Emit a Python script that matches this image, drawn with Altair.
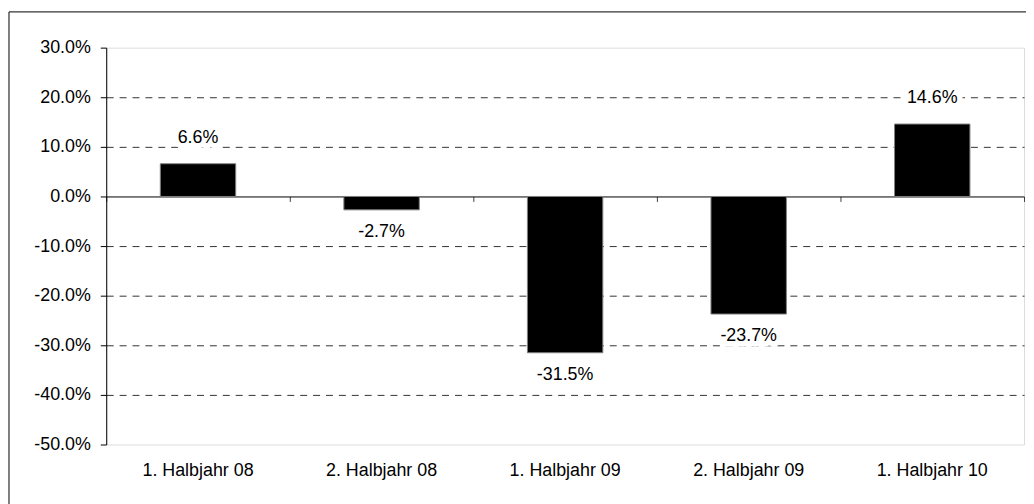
import altair as alt
import pandas as pd

categories = ["1. Halbjahr 08", "2. Halbjahr 08", "1. Halbjahr 09", "2. Halbjahr 09", "1. Halbjahr 10"]
values = [6.6, -2.7, -31.5, -23.7, 14.6]
y_ticks = [-50, -40, -30, -20, -10, 0, 10, 20, 30]

df = pd.DataFrame({"cat": categories, "val": values})
df["lbl"] = [f"{v:.1f}%" for v in values]

FONT = "Liberation Sans"
FS = 18

xscale = alt.Scale(paddingInner=0, paddingOuter=0)

x_main = alt.X("cat:N", sort=categories, scale=xscale,
               axis=alt.Axis(title=None, labelAngle=0, ticks=False, tickSize=0, domain=False,
                             labelPadding=17, labelFont=FONT, labelFontSize=FS, labelColor="black"))
x_none = alt.X("cat:N", sort=categories, scale=xscale, axis=None)

y_axis = alt.Axis(title=None, values=y_ticks,
                  labelExpr="(datum.value < 0 ? '-' : '') + format(abs(datum.value), '.1f') + '%'",
                  labelFont=FONT, labelFontSize=FS, labelColor="black",
                  labelPadding=10, tickSize=6, tickColor="black",
                  domainColor="black", grid=True, gridColor="#333333",
                  gridDash=[7, 6],
                  gridOpacity={"condition": {"test": "datum.value == 30 || datum.value == -50 || datum.value == 0", "value": 0}, "value": 1})
y_main = alt.Y("val:Q", scale=alt.Scale(domain=[-50, 30], nice=False), axis=y_axis)

base = alt.Chart(df)

bars = base.mark_bar(color="black", stroke="#808080", strokeWidth=1, width=76).encode(x=x_main, y=y_main)

zero_axis = base.mark_bar(opacity=0, width=1).encode(
    x=alt.X("cat:N", sort=categories, scale=xscale,
            axis=alt.Axis(title=None, labels=False, domain=True, domainColor="black", domainWidth=1,
                          ticks=True, tickColor="#404040", tickSize=5, tickBand="extent",
                          orient="bottom", offset=-250)),
    y=y_main,
)

def labels(filter_expr, dy):
    sub = base.transform_filter(filter_expr)
    halo = sub.mark_text(font=FONT, fontSize=FS, dy=dy, baseline="middle", align="center",
                         stroke="white", strokeWidth=11, strokeJoin="round", fill="white").encode(
        x=x_none, y=y_main, text="lbl:N")
    txt = sub.mark_text(font=FONT, fontSize=FS, dy=dy, baseline="middle", align="center",
                        color="black").encode(
        x=x_none, y=y_main, text="lbl:N")
    return [halo, txt]

frame = alt.Chart(alt.Data(values=[{"a": 1}])).mark_rect(fill=None, stroke="black", strokeWidth=1).encode(
    x=alt.value(-98), x2=alt.value(1100), y=alt.value(-36), y2=alt.value(560))

layers = [bars, zero_axis] + labels("datum.val >= 0", -26) + labels("datum.val < 0", 22) + [frame]

chart = alt.layer(*layers).resolve_axis(x="independent").properties(
    width=925, height=400,
    padding={"left": 99, "top": 38, "right": 2, "bottom": 58},
    autosize=alt.AutoSizeParams(type="none"),
).configure_view(stroke="#808080", strokeWidth=1).configure(background="white")

chart.save("out.html", embed_options={"renderer": "svg", "actions": False})
